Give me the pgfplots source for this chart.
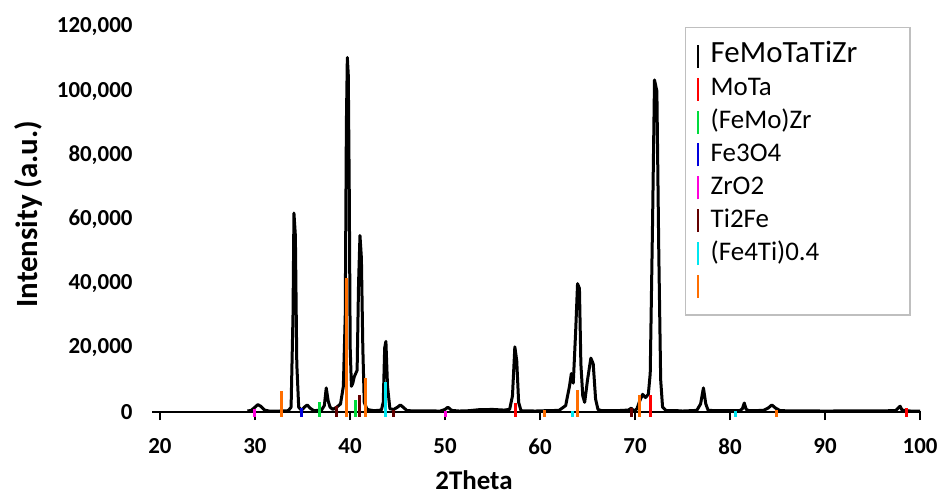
\documentclass[border=0pt]{standalone}
\usepackage{pgfplots}
\pgfplotsset{compat=1.18}
\usepackage{fontspec}
\setmainfont{Carlito}
\definecolor{cMoTa}{RGB}{255,0,0}
\definecolor{cFeMoZr}{RGB}{0,220,60}
\definecolor{cFeO}{RGB}{0,0,220}
\definecolor{cZrO}{RGB}{255,0,220}
\definecolor{cTiFe}{RGB}{100,0,0}
\definecolor{cFeTi}{RGB}{0,230,240}
\definecolor{cOr}{RGB}{255,110,0}
\begin{document}
\begin{tikzpicture}
\useasboundingbox (0,0) rectangle (947bp,498bp);
\begin{axis}[
  at={(152bp,86bp)}, anchor=south west,
  scale only axis, width=769bp, height=385bp,
  xmin=19.16, xmax=100.1, ymin=0, ymax=120000,
  clip=false,
  axis x line=bottom, axis y line=left,
  y axis line style={draw=none},
  x axis line style={-, line width=1.6bp},
  xtick={20,30,...,100},
  xticklabels={20,30,40,50,60,70,80,90,100},
  ytick={0,20000,...,120000},
  yticklabels={0,{20,000},{40,000},{60,000},{80,000},{100,000},{120,000}},
  scaled y ticks=false,
  ytick style={draw=none},
  xtick style={line width=1.6bp, black},
  tick align=outside, major tick length=8bp,
  ticklabel style={font=\fontsize{23}{27}\selectfont\bfseries},
  xticklabel style={yshift=-15bp},
  yticklabel style={xshift=-8bp},
  xlabel={2Theta}, ylabel={Intensity (a.u.)},
  xlabel style={font=\fontsize{27}{32}\selectfont\bfseries, at={(axis description cs:0.4187,-0.1766)}, anchor=center},
  ylabel style={font=\fontsize{31}{36}\selectfont\bfseries, at={(axis description cs:-0.1612,0.514)}, anchor=center},
  legend style={at={(axis description cs:0.6931,1.0)}, anchor=north west,
    draw=gray!50, line width=1.5bp, fill=white, inner xsep=6bp, inner ysep=14bp,
    row sep=3.9bp, column sep=0pt, font=\fontsize{27}{32}\selectfont, cells={anchor=west},
    nodes={text height=19bp, text depth=6bp, inner xsep=1bp}},
  legend image code/.code={\draw[#1, line width=2.5bp] (5bp,-11.5bp) -- (5bp,11.5bp); \path (0bp,0bp) (15bp,0bp);},
  legend cell align=left,
]
\addplot[black, line width=3bp, line join=round] coordinates {
(29.2,300) (29.6,500) (30.0,1500) (30.3,2300) (30.6,1800) (31.0,600) (31.5,300)
(32.5,300) (33.5,400) (33.8,1500) (34.0,30000) (34.1,62000) (34.25,55000) (34.4,15000)
(34.6,1500) (34.9,500) (35.2,1500) (35.5,2200) (35.8,1200) (36.2,400) (37.0,600)
(37.3,2000) (37.5,7500) (37.7,3500) (37.9,1500) (38.2,800) (38.6,1500) (39.0,2500)
(39.3,8000) (39.5,30000) (39.62,90000) (39.72,110500) (39.82,105000) (39.92,70000)
(40.02,20000) (40.15,8000) (40.3,9000) (40.45,11000) (40.6,12000) (40.75,13000)
(40.9,40000) (41.05,55000) (41.2,48000) (41.35,20000) (41.5,3000) (41.8,800)
(42.5,400) (43.3,600) (43.5,3000) (43.65,20000) (43.78,22000) (43.95,8000)
(44.2,1000) (44.6,800) (45.0,1500) (45.3,2200) (45.6,1500) (46.0,400)
(49.5,300) (50.0,800) (50.3,1500) (50.7,500) (51.5,300) (52.5,400) (53.5,700)
(55.0,800) (56.2,600) (56.8,800) (57.1,5000) (57.35,20300) (57.55,16000) (57.75,3000)
(58.0,400) (59.5,300) (60.5,400) (62.0,500) (62.7,2000) (63.1,8000) (63.3,12000)
(63.5,9000) (63.75,25000) (63.95,40000) (64.15,38500) (64.3,15000) (64.5,5000)
(64.7,3000) (65.0,10000) (65.35,16800) (65.6,15000) (65.85,4000) (66.1,800)
(66.5,400) (68.0,400) (69.3,600) (69.6,1200) (69.9,300) (70.2,1000) (70.5,3500)
(70.8,5500) (71.1,4500) (71.4,5500) (71.6,12000) (71.85,60000) (72.05,103500)
(72.3,100000) (72.5,50000) (72.7,10000) (72.9,1500) (73.3,400) (74.5,400) (75.0,300)
(76.5,500) (76.9,2500) (77.2,7500) (77.45,2500) (77.7,500) (79.0,400) (81.0,400)
(81.3,1000) (81.5,2800) (81.7,800) (82.0,400) (83.5,500) (84.0,1200) (84.4,2200)
(84.8,1200) (85.3,400) (90.0,300) (97.4,400) (97.7,1200) (97.9,1800) (98.1,600)
(99.0,300) (100.0,300)
};
\addlegendentry{\makebox[192bp][l]{\fontsize{31}{36}\selectfont FeMoTaTiZr}}
\addplot[cMoTa, line width=3bp, unbounded coords=jump] coordinates {
(57.4,-1500) (57.4,2700) (57.4,nan)
(71.65,-1500) (71.65,5300) (71.65,nan)
(98.6,-1500) (98.6,1200)
};
\addlegendentry{MoTa}
\addplot[cFeMoZr, line width=3bp, unbounded coords=jump] coordinates {
(36.8,-1500) (36.8,3000) (36.8,nan)
(40.6,-1500) (40.6,3700)
};
\addlegendentry{(FeMo)Zr}
\addplot[cFeO, line width=3bp, unbounded coords=jump] coordinates {
(34.85,-1500) (34.85,1300)
};
\addlegendentry{Fe3O4}
\addplot[cZrO, line width=3bp, unbounded coords=jump] coordinates {
(30.0,-1500) (30.0,1000) (30.0,nan)
(50.1,-1500) (50.1,300)
};
\addlegendentry{ZrO2}
\addplot[cTiFe, line width=3bp, unbounded coords=jump] coordinates {
(38.6,-1500) (38.6,1800) (38.6,nan)
(40.98,-1500) (40.98,5300) (40.98,nan)
(44.6,-1500) (44.6,700) (44.6,nan)
(69.65,-1500) (69.65,1200)
};
\addlegendentry{Ti2Fe}
\addplot[cFeTi, line width=3bp, unbounded coords=jump] coordinates {
(43.7,-1500) (43.7,9200) (43.7,nan)
(63.4,-1500) (63.4,300) (63.4,nan)
(80.6,-1500) (80.6,200)
};
\addlegendentry{(Fe4Ti)0.4}
\addplot[cOr, line width=3bp, unbounded coords=jump] coordinates {
(32.8,-1500) (32.8,6500) (32.8,nan)
(39.65,-1500) (39.65,41700) (39.65,nan)
(41.65,-1500) (41.65,10500) (41.65,nan)
(60.45,-1500) (60.45,600) (60.45,nan)
(63.9,-1500) (63.9,6800) (63.9,nan)
(70.45,-1500) (70.45,5300) (70.45,nan)
(84.9,-1500) (84.9,600)
};
\addlegendentry{\phantom{X}}
\end{axis}
\end{tikzpicture}
\end{document}
